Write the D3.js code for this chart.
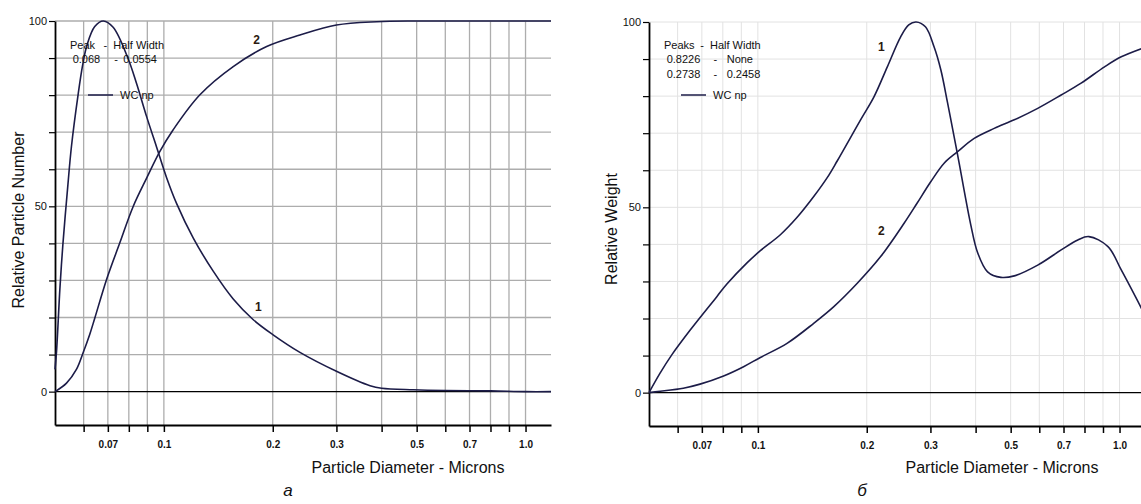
<!DOCTYPE html>
<html><head><meta charset="utf-8">
<script src="https://cdn.jsdelivr.net/npm/d3@7"></script>
<style>
html,body{margin:0;padding:0;background:#fff;}
svg text{font-family:"Liberation Sans",Arial,sans-serif;}
</style></head><body>
<svg id="c" width="1141" height="504"></svg>
<script>
// ---------- data ----------
const tickValuesX = [0.06,0.07,0.08,0.09,0.1,0.2,0.3,0.4,0.5,0.6,0.7,0.8,0.9,1.0];
const tickLabelsX = ["0.07","0.1","0.2","0.3","0.5","0.7","1.0"];
const tickValuesY = [0,10,20,30,40,50,60,70,80,90,100];
const tickLabelsY = ["0","50","100"];

// Panel a: relative particle number
const numFreqD = [0.05,0.0505,0.0516,0.0526,0.0543,0.0555,0.0579,0.0596,0.0613,0.0644,0.068,0.0724,0.0796,0.084,0.0896,0.0954,0.1017,0.1084,0.1205,0.1369,0.1555,0.1767,0.2,0.2378,0.3,0.3716,0.4,0.49,0.6,0.8,1.0,1.176];
const numFreqV = [6,11,28,40,56,66,80,88,93.5,98.5,100,98.3,89.9,83.2,74.2,66.1,57.8,50.8,41.5,32.5,25.0,19.4,15.4,10.6,5.5,1.6,0.9,0.5,0.3,0.2,0,0];
const numCumD = [0.05,0.0538,0.0573,0.0598,0.0624,0.0644,0.0694,0.0755,0.0822,0.0896,0.0975,0.106,0.1258,0.1555,0.1924,0.2378,0.3,0.388,0.5,0.8,1.176];
const numCumV = [0,2.3,6.0,10.5,15.5,19.8,30.2,40.1,49.9,57.6,64.8,70.6,80.1,87.7,93.1,96.2,98.9,99.8,100,100,100];
const numLegend = [["Peak","-","Half Width"],["0.068","-","0.0554"]];

// Panel б: relative weight
const wtFreqD = [0.05,0.0536,0.0578,0.065,0.077,0.0821,0.0933,0.1016,0.1154,0.1284,0.1427,0.1555,0.1657,0.1923,0.2094,0.228,0.2482,0.2613,0.2738,0.2906,0.307,0.3205,0.3344,0.3489,0.3601,0.3719,0.388,0.405,0.4316,0.47,0.5117,0.594,0.6896,0.7667,0.8226,0.929,1.011,1.156];
const wtFreqV = [0,5.2,10.2,16.9,25.9,29.3,35.0,38.3,42.6,47.3,52.9,58.0,62.5,73.6,79.8,87.9,96.0,99.2,100,98.7,93.3,87.1,78.3,69.0,62.0,54.5,45.2,37.8,32.6,31.1,31.5,34.4,38.5,41.2,42.1,39.4,33.1,22.3];
const wtCumD = [0.05,0.0528,0.0622,0.0692,0.0804,0.0913,0.1016,0.1204,0.1427,0.1622,0.1883,0.2185,0.2537,0.2755,0.3006,0.3273,0.3565,0.3963,0.4503,0.5117,0.594,0.6896,0.783,0.9089,1.011,1.156];
const wtCumV = [0,0.3,1.2,2.3,4.5,7.0,9.5,13.3,18.7,23.2,29.5,36.7,45.7,51.1,56.9,61.9,65.0,68.6,71.3,73.6,76.7,80.3,83.5,87.9,90.6,92.9];
const wtLegend = [["Peaks","-","Half Width"],["0.8226","-","None"],["0.2738","-","0.2458"]];

// ---------- drawing ----------
const svg = d3.select("#c");
const curveColor = "#1c1c48";

function panel(opt){
  const g = svg.append("g");
  const x = d3.scaleLog().domain([0.05,1.176]).range([opt.x0, opt.x0+496]);
  const y = d3.scaleLinear().domain([-9,100]).range([opt.yb, opt.yt]);
  // grid
  g.append("g").selectAll("line").data(tickValuesX).join("line")
    .attr("x1",d=>x(d)).attr("x2",d=>x(d)).attr("y1",y(100)).attr("y2",y(-9))
    .attr("stroke",opt.grid).attr("stroke-width",opt.gridW);
  g.append("g").selectAll("line").data(tickValuesY.filter(v=>v>0)).join("line")
    .attr("x1",x(0.05)).attr("x2",x(1.176)).attr("y1",d=>y(d)).attr("y2",d=>y(d))
    .attr("stroke",opt.grid).attr("stroke-width",opt.gridW);
  // zero line
  g.append("line").attr("x1",x(0.05)).attr("x2",x(1.176)).attr("y1",y(0)).attr("y2",y(0))
    .attr("stroke","#000").attr("stroke-width",1.4);
  // axes
  const ax = g.append("g").attr("transform",`translate(0,${y(-9)})`)
    .call(d3.axisBottom(x).tickValues(tickValuesX).tickSize(7).tickPadding(9).tickSizeOuter(0)
      .tickFormat(d=>{const s=d===1?"1.0":String(+d.toFixed(2));return tickLabelsX.includes(s)?s:"";}));
  ax.selectAll("text").attr("font-size",10).attr("font-weight","bold").attr("fill","#111");
  ax.selectAll("line").attr("stroke","#000").attr("stroke-width",1.5);
  ax.select(".domain").attr("stroke","#000").attr("stroke-width",1.8);
  const ay = g.append("g").attr("transform",`translate(${x(0.05)},0)`)
    .call(d3.axisLeft(y).tickValues(tickValuesY).tickSize(6).tickPadding(2).tickSizeOuter(0)
      .tickFormat(d=>tickLabelsY.includes(String(d))?String(d):""));
  ay.selectAll("text").attr("font-size",11).attr("fill","#111");
  ay.selectAll("line").attr("stroke","#000").attr("stroke-width",1.2);
  ay.select(".domain").attr("stroke","#000").attr("stroke-width",1.8);
  // curves
  const line = d3.line().curve(d3.curveCatmullRom.alpha(0.5)).x(d=>x(d[0])).y(d=>y(d[1]));
  opt.series.forEach(s=>{
    g.append("path").datum(d3.zip(s[0],s[1])).attr("d",line)
      .attr("fill","none").attr("stroke",curveColor).attr("stroke-width",1.6);
  });
  // curve labels
  opt.labels.forEach(l=>{
    g.append("text").attr("x",x(l[0])).attr("y",y(l[1])).attr("text-anchor","middle")
      .attr("dy","0.35em").attr("font-size",12).attr("font-weight","bold").attr("fill","#2a1a10").text(l[2]);
  });
  // legend
  opt.legend.forEach((row,i)=>{
    const cols = i===0 ? opt.legHead : opt.legCols;
    row.forEach((t,j)=>{
      g.append("text").attr("x",opt.x0+cols[j]).attr("y",45+i*14.5).attr("dy","0.35em")
        .attr("text-anchor", j===1 ? "middle" : "start")
        .attr("font-size",11).attr("fill","#111").text(t);
    });
  });
  g.append("line").attr("x1",opt.x0+opt.legLine).attr("x2",opt.x0+opt.legLine+25).attr("y1",95).attr("y2",95)
    .attr("stroke",curveColor).attr("stroke-width",1.5);
  g.append("text").attr("x",opt.x0+opt.legLine+32).attr("y",95).attr("dy","0.35em")
    .attr("font-size",11).attr("fill","#111").text("WC np");
  // axis titles
  g.append("text").attr("x",opt.x0+353).attr("y",467).attr("dy","0.35em").attr("text-anchor","middle")
    .attr("font-size",16).attr("fill","#111").text("Particle Diameter - Microns");
  g.append("text").attr("transform",`translate(${opt.x0-opt.ytx},${opt.yty}) rotate(-90)`).attr("dy","0.35em")
    .attr("text-anchor","middle").attr("font-size",16).attr("fill","#111").text(opt.ytitle);
  g.append("text").attr("x",opt.letterX).attr("y",490).attr("dy","0.35em").attr("text-anchor","middle")
    .attr("font-family","Liberation Serif, Times New Roman, serif").attr("font-style","italic")
    .attr("font-size",17).attr("fill","#111").text(opt.letter);
}

panel({x0:55, yt:21, yb:425, grid:"#adadad", gridW:1.3,
  series:[[numFreqD,numFreqV],[numCumD,numCumV]],
  labels:[[0.1806,95,"2"],[0.1824,23,"1"]],
  legend:numLegend, legHead:[15,50.3,58.3], legCols:[17.7,61,68.3], legLine:33,
  ytitle:"Relative Particle Number", ytx:37, yty:220, letter:"а", letterX:288});

panel({x0:649, yt:22, yb:426, grid:"#e2e2e2", gridW:1,
  series:[[wtFreqD,wtFreqV],[wtCumD,wtCumV]],
  labels:[[0.2195,93.3,"1"],[0.2195,43.7,"2"]],
  legend:wtLegend, legHead:[15,53,61], legCols:[17.7,66.3,77.7], legLine:32,
  ytitle:"Relative Weight", ytx:37.5, yty:229, letter:"б", letterX:862});
</script>
</body></html>
